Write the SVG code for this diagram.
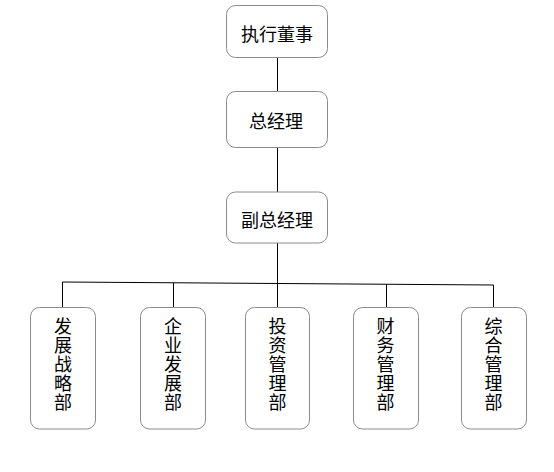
<svg xmlns="http://www.w3.org/2000/svg" width="554" height="472" viewBox="0 0 554 472">
<style>
.box{fill:#fff;stroke:#8c8c8c;stroke-width:1}
.t{font-family:"Noto Sans CJK SC","Noto Sans",sans-serif;font-size:18px;fill:#000;text-anchor:middle}
.v{writing-mode:vertical-rl;letter-spacing:1px}
.c line{stroke:#000;stroke-width:1}
</style>
<rect width="554" height="472" fill="#fff"/>
<g class="c" id="connectors">
<line x1="277.5" y1="57" x2="277.5" y2="91.5"/>
<line x1="277.5" y1="147.5" x2="277.5" y2="192"/>
<line x1="277.5" y1="243" x2="277.5" y2="283"/>
<line x1="62.5" y1="282" x2="493.5" y2="285"/>
<line x1="62.5" y1="282" x2="62.5" y2="307.5"/>
<line x1="173.5" y1="282.8" x2="173.5" y2="307.5"/>
<line x1="277.5" y1="283.5" x2="277.5" y2="307.5"/>
<line x1="386.5" y1="284.2" x2="386.5" y2="307.5"/>
<line x1="493.5" y1="285" x2="493.5" y2="307.5"/>
</g>
<g id="n1"><rect class="box" x="226.5" y="5.5" width="101" height="52" rx="9"/><text class="t" x="277" y="40.5">执行董事</text></g>
<g id="n2"><rect class="box" x="226.5" y="91.5" width="101" height="56" rx="9"/><text class="t" x="276" y="127.5">总经理</text></g>
<g id="n3"><rect class="box" x="226.5" y="192" width="101" height="51" rx="9"/><text class="t" x="277" y="227">副总经理</text></g>
<g id="n4"><rect class="box" x="30.5" y="307.5" width="65" height="121.5" rx="9"/><text class="t v" x="63" y="364.5">发展战略部</text></g>
<g id="n5"><rect class="box" x="140.5" y="307.5" width="65" height="121.5" rx="9"/><text class="t v" x="173" y="364.5">企业发展部</text></g>
<g id="n6"><rect class="box" x="245.5" y="307.5" width="64" height="121.5" rx="9"/><text class="t v" x="277.5" y="364.5">投资管理部</text></g>
<g id="n7"><rect class="box" x="353.5" y="307.5" width="65" height="121.5" rx="9"/><text class="t v" x="385.5" y="364.5">财务管理部</text></g>
<g id="n8"><rect class="box" x="461.5" y="307.5" width="65" height="121.5" rx="9"/><text class="t v" x="493.5" y="364.5">综合管理部</text></g>
</svg>
